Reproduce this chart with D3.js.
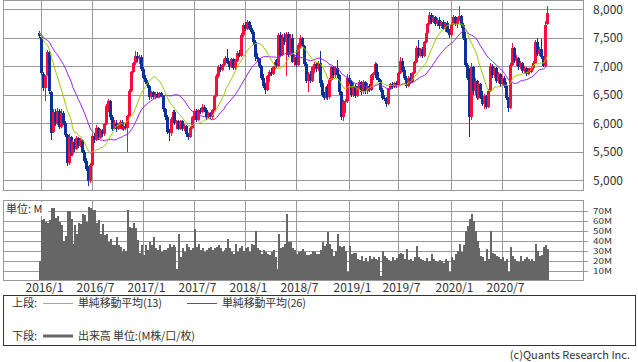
<!DOCTYPE html>
<html lang="ja">
<head>
  <meta charset="UTF-8" />
  <title>weekly candles</title>
  <script src="https://d3js.org/d3.v7.min.js" charset="utf-8"></script>
  <style>
    body { margin: 0; background: #fff; }
    text { font-family: "Noto Sans CJK JP", "Noto Sans", sans-serif; fill: #333; }
  </style>
</head>
<body>
<script type="text/javascript">

const WIDTH = 638;
const HEIGHT = 362;
const COLORS = {up: "#ff0a3c", down: "#0a3399", ma13: "#99cc00", ma26: "#9a1cf2", vol: "#666666", grid: "#999999"};

// weekly bars, first week starts 2015/12/28
const FIRST_WEEK = new Date(2015, 11, 28);

const opens = [
  7580,7520,6860,6620,6850,7250,6540,5850,6200,5990, 6220,5940,6180,6010,5790,5300,5760,5460,5660,5540,
  5740,5600,5700,5500,5340,5200,4980,5270,5780,5700, 5920,5740,5880,5800,5980,6300,6380,6100,5900,6000,
  5900,5980,6020,5900,5950,5920,6120,6560,6900,7050, 7180,7120,7170,6950,6800,6720,6650,6450,6540,6450,
  6520,6460,6530,6480,6240,6100,5840,5820,6080,6200, 6000,6040,5900,6040,5900,5950,5800,5760,5920,6100,
  6220,6060,6230,6200,6290,6230,6100,6180,6100,6230, 6480,6820,6990,6940,7020,7120,7150,7060,6980,7120,
  6960,7100,7240,7180,7540,7720,7660,7780,7680,7600, 7420,7160,7120,7000,6800,6660,6580,6820,6900,6860,
  6980,7080,7000,7540,7200,7520,7420,7560,7200,7500, 7080,7160,7020,7380,7500,7360,7040,6740,6860,6740,
  6980,7040,6950,7060,6700,6500,6440,6640,6450,6760, 6980,6840,6960,6840,6540,6100,6370,6380,6800,6720,
  6500,6660,6480,6620,6720,6540,6720,6560,6660,6580, 6840,6880,7040,6800,6760,6580,6440,6420,6340,6600,
  6680,6640,6700,6660,6880,7100,6940,6800,6650,6800, 6720,6880,7080,7320,7180,7300,7180,7420,7580,7740,
  7900,7780,7860,7740,7820,7700,7780,7660,7760,7600, 7540,7740,7860,7740,7820,7880,7720,7500,7020,6800,
  6100,6980,6560,6740,6440,6680,6460,6340,6480,6280, 6560,7000,6840,6960,6740,6860,6680,6800,6660,6440,
  6260,7020,7320,7100,7140,6980,7060,6920,6960,6860, 6920,6900,6960,7060,7420,7220,7300,7160,7000,7740
];
const highs = [
  7620,7540,6900,6850,7290,7270,6560,6250,6240,6260, 6250,6240,6220,6040,5810,5800,5780,5700,5720,5780,
  5760,5730,5720,5520,5380,5240,5300,5800,5830,5960, 5940,5900,5900,6010,6340,6420,6400,6150,6050,6050,
  6000,6050,6060,5980,6000,6150,6600,6920,7080,7260, 7250,7200,7190,6980,6840,6760,6670,6560,6560,6540,
  6540,6550,6540,6500,6260,6140,5900,6110,6230,6230, 6060,6060,6060,6060,5980,5960,5820,5950,6120,6240,
  6240,6250,6260,6330,6310,6260,6200,6200,6250,6500, 6860,7020,7030,7040,7140,7180,7310,7100,7140,7150,
  7120,7260,7280,7580,7760,7780,7820,7800,7720,7640, 7460,7240,7140,7020,6860,6700,6840,6940,6960,7000,
  7110,7120,7580,7600,7560,7580,7600,7600,7560,7560, 7200,7280,7400,7550,7520,7380,7080,6900,6920,7000,
  7080,7060,7100,7260,6760,6540,6660,6680,6800,7000, 7000,7000,7110,6860,6560,6400,6420,6860,6840,6760,
  6700,6680,6660,6760,6740,6760,6740,6700,6680,6860, 6900,7080,7060,6900,6780,6620,6500,6460,6620,6700,
  6720,6720,6740,6900,7170,7140,6980,6820,6820,6880, 6900,7100,7350,7460,7320,7340,7440,7600,7760,7960,
  7940,7900,7880,7840,7860,7800,7820,7780,7800,7660, 7760,7900,7880,7860,8050,7900,7760,7600,7050,6960,
  7060,7000,6800,6760,6720,6700,6560,6520,6500,6600, 7050,7040,6980,6990,6900,6880,6820,6820,6720,6460,
  7060,7400,7340,7200,7160,7100,7080,7000,6980,6960, 6960,7000,7100,7460,7500,7340,7480,7180,7800,8060
];
const lows = [
  7500,6850,6560,6380,6820,6520,5700,5830,5950,5960, 5900,5920,5960,5760,5240,5260,5420,5430,5500,5520,
  5560,5580,5480,5300,5160,4900,4950,5250,5650,5680, 5700,5720,5760,5780,5960,6200,6050,5860,5880,5850,
  5880,5900,5880,5860,5880,5500,6100,6540,6880,7020, 7080,7040,6920,6780,6680,6620,6400,6420,6420,6420,
  6440,6440,6460,6200,6060,5800,5680,5780,6000,5960, 5900,5880,5880,5860,5860,5760,5700,5740,5900,6060,
  6020,6040,6160,6180,6200,6060,6080,6080,6080,6220, 6460,6800,6900,6920,7000,7080,7040,6940,6960,6940,
  6940,7080,7160,7160,7520,7620,7640,7640,7560,7380, 7100,7080,6960,6760,6620,6520,6560,6720,6820,6840,
  6950,6960,6980,7160,7180,7380,6820,7170,7180,7050, 7000,6990,7000,7300,7340,7000,6700,6550,6700,6720,
  6880,6900,6920,6640,6460,6400,6420,6410,6430,6740, 6800,6800,6800,6500,6060,6040,6180,6360,6680,6460,
  6460,6440,6460,6580,6500,6520,6520,6520,6540,6560, 6760,6860,6760,6720,6540,6400,6380,6290,6320,6580,
  6600,6620,6620,6640,6860,6900,6760,6610,6630,6680, 6700,6860,7060,7140,7160,7140,7160,7400,7560,7720,
  7740,7760,7700,7700,7660,7680,7640,7600,7580,7500, 7520,7720,7700,7680,7800,7680,7460,6980,6760,5760,
  6060,6500,6500,6400,6420,6420,6300,6240,6240,6260, 6540,6800,6800,6700,6700,6640,6660,6620,6400,6200,
  6240,7000,7060,7000,6940,6950,6880,6880,6820,6840, 6860,6880,6940,7040,7180,7180,7120,6980,6980,7720
];
const closes = [
  7530,6880,6620,6830,7250,6560,5820,6200,5990,6220, 5940,6180,6010,5790,5300,5760,5460,5660,5540,5740,
  5600,5700,5500,5340,5200,4980,5270,5780,5700,5920, 5740,5880,5800,5980,6300,6380,6100,5900,6000,5900,
  5980,6020,5900,5950,5920,6120,6560,6900,7050,7180, 7120,7170,6950,6800,6720,6650,6450,6540,6450,6520,
  6460,6530,6480,6240,6100,5840,5820,6080,6200,6000, 6040,5900,6040,5900,5950,5800,5760,5920,6100,6220,
  6060,6230,6200,6290,6230,6100,6180,6100,6230,6480, 6820,6990,6940,7020,7120,7150,7060,6980,7120,6960,
  7100,7240,7180,7540,7720,7660,7780,7680,7600,7420, 7160,7120,7000,6800,6660,6580,6820,6900,6860,6980,
  7080,7000,7540,7200,7520,7420,7560,7200,7500,7080, 7160,7020,7380,7500,7360,7040,6740,6860,6740,6980,
  7040,6950,7060,6700,6500,6440,6640,6450,6760,6980, 6840,6960,6840,6540,6100,6370,6380,6800,6720,6500,
  6660,6480,6620,6720,6540,6720,6560,6660,6580,6840, 6880,7040,6800,6760,6580,6440,6420,6340,6600,6680,
  6640,6700,6660,6880,7100,6940,6800,6650,6800,6720, 6880,7080,7320,7180,7300,7180,7420,7580,7740,7900,
  7780,7860,7740,7820,7700,7780,7660,7760,7600,7540, 7740,7860,7740,7820,7880,7720,7500,7020,6800,6100,
  6980,6560,6740,6440,6680,6460,6340,6480,6280,6560, 7000,6840,6960,6740,6860,6680,6800,6660,6440,6260,
  7020,7320,7100,7140,6980,7060,6920,6960,6860,6920, 6900,6960,7060,7420,7220,7300,7160,7000,7720,7940
];
const priorCloses = [
  7700,7750,7800,7650,7500,7600,7700,7400,7300,7450, 7550,7500,7600,7650,7700,7500,7550,7600,7650,7700,
  7600,7550,7500,7600,7550
];
// volume, million shares
const volumes = [
  20,61,62,59,58,61,73,73,63,65, 59,56,40,45,70,70,62,37,56,47,
  58,57,67,66,59,74,73,71,71,58, 61,47,57,46,47,39,42,36,36,44,
  36,34,29,32,30,71,54,53,58,53, 41,28,36,26,36,31,39,36,44,33,
  31,36,29,31,31,33,37,34,36,34, 12,47,24,33,29,37,34,31,33,52,
  34,37,31,33,29,31,33,34,31,33, 34,36,33,29,31,33,42,33,29,27,
  37,29,33,35,30,33,34,29,37,36, 50,33,31,27,31,29,27,26,29,31,
  24,12,47,33,34,37,67,39,39,33, 31,27,29,30,32,29,26,26,27,30,
  29,27,27,31,39,35,37,49,37,32, 25,30,47,35,34,35,30,9,35,27,
  28,28,22,21,25,20,23,19,25,22, 24,22,21,24,5,30,25,23,21,20,
  24,21,23,27,28,27,22,32,21,22, 20,24,35,24,22,21,20,23,19,20,
  27,22,20,19,21,20,18,22,20,9, 24,21,27,30,37,29,36,50,55,62,
  67,60,50,40,33,25,24,20,32,22, 50,28,27,25,24,22,24,20,22,9,
  34,25,22,20,19,25,20,22,24,22, 20,22,20,37,30,25,26,34,36,32
];

const priceTicks = [5000, 5500, 6000, 6500, 7000, 7500, 8000];
const volumeTicks = [10, 20, 30, 40, 50, 60, 70];
const xTickLabels = ["2016/1", "2016/7", "2017/1", "2017/7", "2018/1", "2018/7", "2019/1", "2019/7", "2020/1", "2020/7"];

const svg = d3.select("body")
    .append("svg")
        .attr("width", WIDTH)
        .attr("height", HEIGHT);

const LEFT = 3, RIGHT = 583;
const P_TOP = 0, P_BOTTOM = 190;
const V_TOP = 200, V_BOTTOM = 280;

const x = d3.scaleTime()
    .domain([new Date(2015, 7, 21), new Date(2021, 3, 21)])
    .range([LEFT, RIGHT]);
const yPrice = d3.scaleLinear()
    .domain([5000, 8000])
    .range([180, 9.3]);
const yVol = d3.scaleLinear()
    .domain([0, 80])
    .range([280.6, 201.2]);

const bars = closes.map((c, i) => ({
    date: d3.timeMonday.offset(FIRST_WEEK, i),
    o: opens[i], h: highs[i], l: lows[i], c: c, v: volumes[i]
}));

// simple moving averages over prior + visible closes
const allCloses = priorCloses.concat(closes);
function sma(n) {
    return closes.map((_, i) => {
        const end = i + priorCloses.length;
        return d3.mean(allCloses.slice(end - n + 1, end + 1));
    });
}
const ma13 = sma(13);
const ma26 = sma(26);

const xTickDates = xTickLabels.map(s => {
    const [yy, mm] = s.split("/").map(Number);
    return d3.timeMonday.ceil(new Date(yy, mm - 1, 1));
});
const px = d => Math.round(x(d));

// grid
const grid = svg.append("g")
    .attr("stroke", COLORS.grid)
    .attr("stroke-width", 1)
    .attr("shape-rendering", "crispEdges");
[[P_TOP, P_BOTTOM], [V_TOP, V_BOTTOM]].forEach(([t, b]) => {
    grid.selectAll(null)
        .data(xTickDates)
        .join("line")
            .attr("x1", d => px(d) + 0.5)
            .attr("x2", d => px(d) + 0.5)
            .attr("y1", t)
            .attr("y2", b);
});
grid.selectAll(null)
    .data(priceTicks)
    .join("line")
        .attr("x1", LEFT)
        .attr("x2", RIGHT)
        .attr("y1", d => Math.round(yPrice(d)) + 0.5)
        .attr("y2", d => Math.round(yPrice(d)) + 0.5);
grid.selectAll(null)
    .data(volumeTicks)
    .join("line")
        .attr("x1", LEFT)
        .attr("x2", RIGHT + 5)
        .attr("y1", d => Math.round(yVol(d)) + 0.5)
        .attr("y2", d => Math.round(yVol(d)) + 0.5);

// volume
svg.append("g")
    .attr("fill", COLORS.vol)
    .attr("shape-rendering", "crispEdges")
    .selectAll("rect")
    .data(bars)
    .join("rect")
        .attr("x", d => px(d.date))
        .attr("width", 2)
        .attr("y", d => yVol(d.v))
        .attr("height", d => yVol(0) - yVol(d.v));

// candles
const candle = svg.append("g")
    .attr("shape-rendering", "crispEdges")
    .selectAll("g")
    .data(bars)
    .join("g")
        .attr("fill", d => d.c >= d.o ? COLORS.up : COLORS.down)
        .attr("stroke", d => d.c >= d.o ? COLORS.up : COLORS.down);
candle.append("line")
    .attr("x1", d => px(d.date) + 0.5)
    .attr("x2", d => px(d.date) + 0.5)
    .attr("y1", d => yPrice(d.h))
    .attr("y2", d => yPrice(d.l));
candle.append("rect")
    .attr("stroke", "none")
    .attr("x", d => px(d.date) - 1)
    .attr("width", 3)
    .attr("y", d => yPrice(Math.max(d.o, d.c)))
    .attr("height", d => Math.max(1, Math.abs(yPrice(d.o) - yPrice(d.c))));

// moving averages
const line = vals => d3.line()
    .x(d => px(d.date) + 0.5)
    .y((d, i) => yPrice(vals[i]))(bars);
svg.append("path")
    .attr("d", line(ma26))
    .attr("fill", "none")
    .attr("stroke", COLORS.ma26)
    .attr("stroke-width", 1);
svg.append("path")
    .attr("d", line(ma13))
    .attr("fill", "none")
    .attr("stroke", COLORS.ma13)
    .attr("stroke-width", 1);

// panel borders
svg.append("rect")
    .attr("x", LEFT + 0.5).attr("y", P_TOP + 0.5)
    .attr("width", RIGHT - LEFT).attr("height", P_BOTTOM - P_TOP)
    .attr("fill", "none").attr("stroke", COLORS.grid)
    .attr("shape-rendering", "crispEdges");
svg.append("rect")
    .attr("x", LEFT + 0.5).attr("y", V_TOP + 0.5)
    .attr("width", RIGHT - LEFT).attr("height", V_BOTTOM - V_TOP)
    .attr("fill", "none").attr("stroke", COLORS.grid)
    .attr("shape-rendering", "crispEdges");

// axis labels
svg.append("g")
    .selectAll("text")
    .data(priceTicks)
    .join("text")
        .attr("x", 593)
        .attr("y", d => yPrice(d) + 4.5)
        .attr("font-size", "12px")
        .text(d => d3.format(",")(d));
svg.append("g")
    .selectAll("text")
    .data(volumeTicks)
    .join("text")
        .attr("x", 593)
        .attr("y", d => yVol(d) + 3)
        .attr("font-family", "'DejaVu Sans', sans-serif")
        .attr("font-size", "8px")
        .attr("textLength", 19)
        .attr("lengthAdjust", "spacingAndGlyphs")
        .text(d => d + "M");
svg.append("g")
    .selectAll("text")
    .data(xTickLabels)
    .join("text")
        .attr("x", (d, i) => px(xTickDates[i]) + 3.5)
        .attr("y", 292)
        .attr("text-anchor", "middle")
        .attr("font-size", "12px")
        .text(d => d);

svg.append("rect")
    .attr("x", 4).attr("y", 202)
    .attr("width", 44).attr("height", 14)
    .attr("fill", "#fff");
svg.append("text")
    .attr("x", 6)
    .attr("y", 213)
    .attr("font-size", "11px")
    .text("単位: M");

// legend
const legend = svg.append("g").attr("font-size", "11px");
legend.append("rect")
    .attr("x", 3.5).attr("y", 295.5)
    .attr("width", 632).attr("height", 50)
    .attr("fill", "#fff").attr("stroke", "#333")
    .attr("shape-rendering", "crispEdges");
legend.append("text").attr("x", 12).attr("y", 307).text("上段:");
legend.append("line")
    .attr("x1", 43).attr("x2", 73).attr("y1", 303.5).attr("y2", 303.5)
    .attr("stroke", COLORS.ma13);
legend.append("text").attr("x", 78).attr("y", 307)
    .attr("textLength", 84).attr("lengthAdjust", "spacing")
    .text("単純移動平均(13)");
legend.append("line")
    .attr("x1", 187).attr("x2", 217).attr("y1", 303.5).attr("y2", 303.5)
    .attr("stroke", COLORS.ma26);
legend.append("text").attr("x", 222).attr("y", 307)
    .attr("textLength", 84).attr("lengthAdjust", "spacing")
    .text("単純移動平均(26)");
legend.append("text").attr("x", 12).attr("y", 340).text("下段:");
legend.append("line")
    .attr("x1", 43).attr("x2", 73).attr("y1", 336).attr("y2", 336)
    .attr("stroke", COLORS.vol).attr("stroke-width", 3);
legend.append("text").attr("x", 78).attr("y", 340)
    .attr("textLength", 117).attr("lengthAdjust", "spacing")
    .text("出来高 単位:(M株/口/枚)");

svg.append("text")
    .attr("x", 630)
    .attr("y", 359)
    .attr("text-anchor", "end")
    .attr("font-size", "11px")
    .attr("fill", "#444")
    .text("(c)Quants Research Inc.");

</script>
</body>
</html>
